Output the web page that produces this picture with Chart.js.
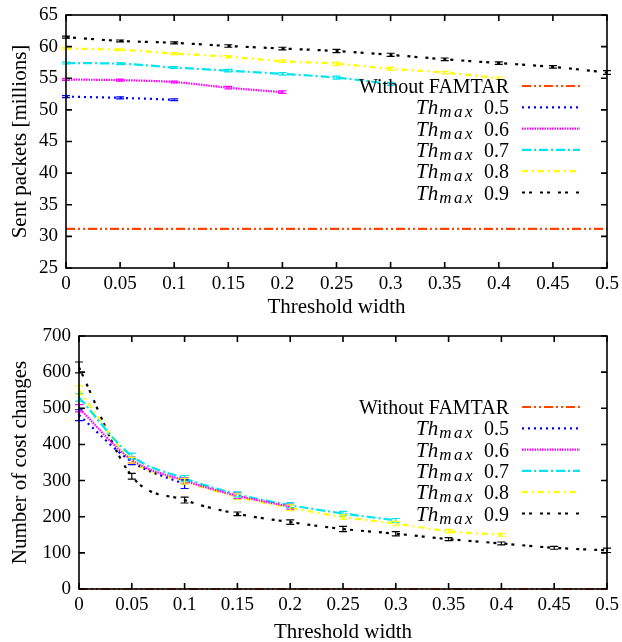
<!DOCTYPE html>
<html>
<head>
<meta charset="utf-8">
<script src="https://cdn.jsdelivr.net/npm/chart.js@4/dist/chart.umd.min.js"></script>
<style>
    html, body { margin: 0; padding: 0; background: #fff; }
    .box { position: absolute; left: 0; width: 622px; height: 321px; }
</style>
</head>
<body>
<div class="box" style="top:0"><canvas id="sentChart" width="622" height="321"></canvas></div>
<div class="box" style="top:321px"><canvas id="costChart" width="622" height="321"></canvas></div>
<script>
// Threshold widths (x values) and tick labels
const widths = [0, 0.05, 0.1, 0.15, 0.2, 0.25, 0.3, 0.35, 0.4, 0.45, 0.5];
const xTickLabels = ['0', '0.05', '0.1', '0.15', '0.2', '0.25', '0.3', '0.35', '0.4', '0.45', '0.5'];
const sentTicks = [25, 30, 35, 40, 45, 50, 55, 60, 65];
const costTicks = [0, 100, 200, 300, 400, 500, 600, 700];

const seriesLabels = ['Without FAMTAR', '0.5', '0.6', '0.7', '0.8', '0.9'];

// Sent packets [millions]
const sentNoFamtar = [31.2, 31.2, 31.2, 31.2, 31.2, 31.2, 31.2, 31.2, 31.2, 31.2, 31.2];
const sentTh05 = [52.1, 51.9, 51.6];
const sentTh06 = [54.8, 54.7, 54.4, 53.5, 52.8];
const sentTh07 = [57.4, 57.3, 56.7, 56.2, 55.7, 55.1, 54.1];
const sentTh08 = [59.7, 59.5, 58.9, 58.4, 57.7, 57.3, 56.5, 55.9, 55.0];
const sentTh09 = [61.5, 60.9, 60.6, 60.1, 59.7, 59.3, 58.7, 58.0, 57.4, 56.8, 55.9];
const sentErr = [0.15, 0.15, 0.15, 0.2, 0.2, 0.25, 0.25, 0.2, 0.2, 0.2, 0.3];

// Number of cost changes
const costNoFamtar = [0, 0, 0, 0, 0, 0, 0, 0, 0, 0, 0];
const costTh05 = [481, 352, 290];
const costTh06 = [500, 357, 300, 258, 228];
const costTh07 = [530, 368, 306, 262, 232, 209, 190];
const costTh08 = [550, 356, 298, 255, 225, 199, 181, 160, 150];
const costTh09 = [613, 312, 246, 208, 185, 166, 153, 138, 126, 114, 107];
const costErrTh05 = [15, 8, 12];
const costErrTh06 = [10, 8, 8, 8, 7];
const costErrTh07 = [10, 8, 8, 7, 7, 6, 5];
const costErrTh08 = [12, 8, 8, 8, 8, 6, 6, 5, 4];
const costErrTh09 = [15, 8, 8, 5, 6, 7, 6, 4, 4, 4, 6];

const colors = ['#ff4500', '#0000ff', '#ff00ff', '#00e5ee', '#ffff00', '#000000'];
const dashes = [[9, 3, 2, 3, 2, 3], [2, 4], [1.5, 1], [9, 3, 2, 3], [6, 4, 2, 4], [3, 4, 3, 8]];

const serif = '"Liberation Serif", "DejaVu Serif", serif';

// Frame with inward ticks on all four sides
const framePlugin = {
    id: 'frame',
    afterDatasetsDraw(chart) {
        const { ctx, chartArea: a, scales } = chart;
        ctx.save();
        ctx.strokeStyle = '#000';
        ctx.lineWidth = 1.6;
        ctx.setLineDash([]);
        ctx.strokeRect(a.left, a.top, a.right - a.left, a.bottom - a.top);
        const len = 6;
        ctx.beginPath();
        scales.x.ticks.forEach(t => {
            const px = scales.x.getPixelForValue(t.value);
            ctx.moveTo(px, a.bottom); ctx.lineTo(px, a.bottom - len);
            ctx.moveTo(px, a.top); ctx.lineTo(px, a.top + len);
        });
        scales.y.ticks.forEach(t => {
            const py = scales.y.getPixelForValue(t.value);
            ctx.moveTo(a.left, py); ctx.lineTo(a.left + len, py);
            ctx.moveTo(a.right, py); ctx.lineTo(a.right - len, py);
        });
        ctx.stroke();
        ctx.restore();
    }
};

// Error bars from dataset.err
const errorPlugin = {
    id: 'errbars',
    afterDatasetsDraw(chart) {
        const { ctx, scales } = chart;
        ctx.save();
        ctx.lineWidth = 1.2;
        ctx.setLineDash([]);
        chart.data.datasets.forEach(ds => {
            if (!ds.err) return;
            ctx.strokeStyle = ds.borderColor;
            ds.data.forEach((p, i) => {
                const e = ds.err[i];
                if (!e) return;
                const px = scales.x.getPixelForValue(p.x);
                const y1 = scales.y.getPixelForValue(p.y - e);
                const y2 = scales.y.getPixelForValue(p.y + e);
                ctx.beginPath();
                ctx.moveTo(px, y1); ctx.lineTo(px, y2);
                ctx.moveTo(px - 4, y1); ctx.lineTo(px + 4, y1);
                ctx.moveTo(px - 4, y2); ctx.lineTo(px + 4, y2);
                ctx.stroke();
            });
        });
        ctx.restore();
    }
};

// spaced text for the math-style subscript
function spacedWidth(ctx, s, gap) {
    return s.split('').reduce((w, c) => w + ctx.measureText(c).width + gap, 0);
}
function drawSpaced(ctx, s, x, y, gap) {
    s.split('').forEach(c => {
        ctx.fillText(c, x, y);
        x += ctx.measureText(c).width + gap;
    });
}

// Legend inside the plot, text right-aligned, sample line to the right
const legendPlugin = {
    id: 'texLegend',
    afterDraw(chart) {
        const { ctx, chartArea: a } = chart;
        const textRight = a.right - 98;
        ctx.save();
        ctx.fillStyle = '#000';
        ctx.textBaseline = 'alphabetic';
        chart.data.datasets.forEach((ds, i) => {
            const y = a.top + 71 + i * 21.3;
            const base = y + 7;
            if (i === 0) {
                ctx.font = '20px ' + serif;
                ctx.textAlign = 'right';
                ctx.fillText(seriesLabels[0], textRight, base);
            } else {
                const big = 'italic 21px ' + serif;
                const sub = 'italic 17px ' + serif;
                const num = '20px ' + serif;
                const val = seriesLabels[i];
                ctx.textAlign = 'left';
                ctx.font = big; const w1 = ctx.measureText('Th').width + 1;
                ctx.font = sub; const w2 = spacedWidth(ctx, 'max', 2.5);
                ctx.font = num; const w3 = ctx.measureText(val).width;
                const gap = 9;
                let x = textRight - (w1 + w2 + gap + w3);
                ctx.font = big; ctx.fillText('Th', x, base); x += w1;
                ctx.font = sub; drawSpaced(ctx, 'max', x, base + 3, 2.5); x += w2 + gap;
                ctx.font = num; ctx.fillText(val, x, base);
            }
            ctx.strokeStyle = ds.borderColor;
            ctx.lineWidth = 2.2;
            ctx.setLineDash(ds.borderDash);
            ctx.beginPath();
            ctx.moveTo(a.right - 85, y);
            ctx.lineTo(a.right - 27, y);
            ctx.stroke();
        });
        ctx.restore();
    }
};

function points(vals) {
    return vals.map((v, i) => ({ x: widths[i], y: v }));
}

function makeDatasets(series, errs) {
    return series.map((vals, i) => ({
        data: points(vals),
        err: errs[i],
        borderColor: colors[i],
        borderDash: dashes[i],
        borderWidth: 2.2,
        pointRadius: 0,
        fill: false,
        tension: 0.4,
        cubicInterpolationMode: 'monotone',
        clip: 4
    }));
}

function makeChart(id, datasets, yTicks, yTitle, yWidth, xTitleBottom) {
    return new Chart(document.getElementById(id), {
        type: 'line',
        data: { datasets: datasets },
        options: {
            responsive: false,
            animation: false,
            layout: { padding: { top: 15, right: 15, left: 0, bottom: 0 } },
            plugins: { legend: { display: false }, tooltip: { enabled: false } },
            scales: {
                x: {
                    type: 'linear',
                    min: 0,
                    max: 0.5,
                    grid: { display: false, drawTicks: false },
                    border: { display: false },
                    afterBuildTicks: s => { s.ticks = widths.map(v => ({ value: v })); },
                    afterFit: s => {
                        s.height = 53;
                        s.paddingLeft = 0;
                        s.paddingRight = 0;
                    },
                    ticks: {
                        autoSkip: false,
                        maxRotation: 0,
                        padding: 5,
                        color: '#000',
                        font: { family: serif, size: 19 },
                        callback: (v, i) => xTickLabels[i]
                    },
                    title: {
                        display: true,
                        text: 'Threshold width',
                        color: '#000',
                        font: { family: serif, size: 21 },
                        padding: { top: 0, bottom: xTitleBottom }
                    }
                },
                y: {
                    type: 'linear',
                    min: yTicks[0],
                    max: yTicks[yTicks.length - 1],
                    grid: { display: false, drawTicks: false },
                    border: { display: false },
                    afterBuildTicks: s => { s.ticks = yTicks.map(v => ({ value: v })); },
                    afterFit: s => {
                        s.width = yWidth;
                        s.paddingTop = 0;
                        s.paddingBottom = 0;
                    },
                    ticks: {
                        padding: 8,
                        color: '#000',
                        font: { family: serif, size: 19 },
                        callback: v => String(v)
                    },
                    title: {
                        display: true,
                        text: yTitle,
                        color: '#000',
                        font: { family: serif, size: 21 },
                        padding: { top: 8, bottom: 0 }
                    }
                }
            }
        },
        plugins: [errorPlugin, framePlugin, legendPlugin]
    });
}

const sentSets = makeDatasets(
    [sentNoFamtar, sentTh05, sentTh06, sentTh07, sentTh08, sentTh09],
    [null, sentErr, sentErr, sentErr, sentErr, sentErr]
);
makeChart('sentChart', sentSets, sentTicks, 'Sent packets [millions]', 66, 1);

const costSets = makeDatasets(
    [costNoFamtar, costTh05, costTh06, costTh07, costTh08, costTh09],
    [null, costErrTh05, costErrTh06, costErrTh07, costErrTh08, costErrTh09]
);
makeChart('costChart', costSets, costTicks, 'Number of cost changes', 79, -3);
</script>
</body>
</html>
